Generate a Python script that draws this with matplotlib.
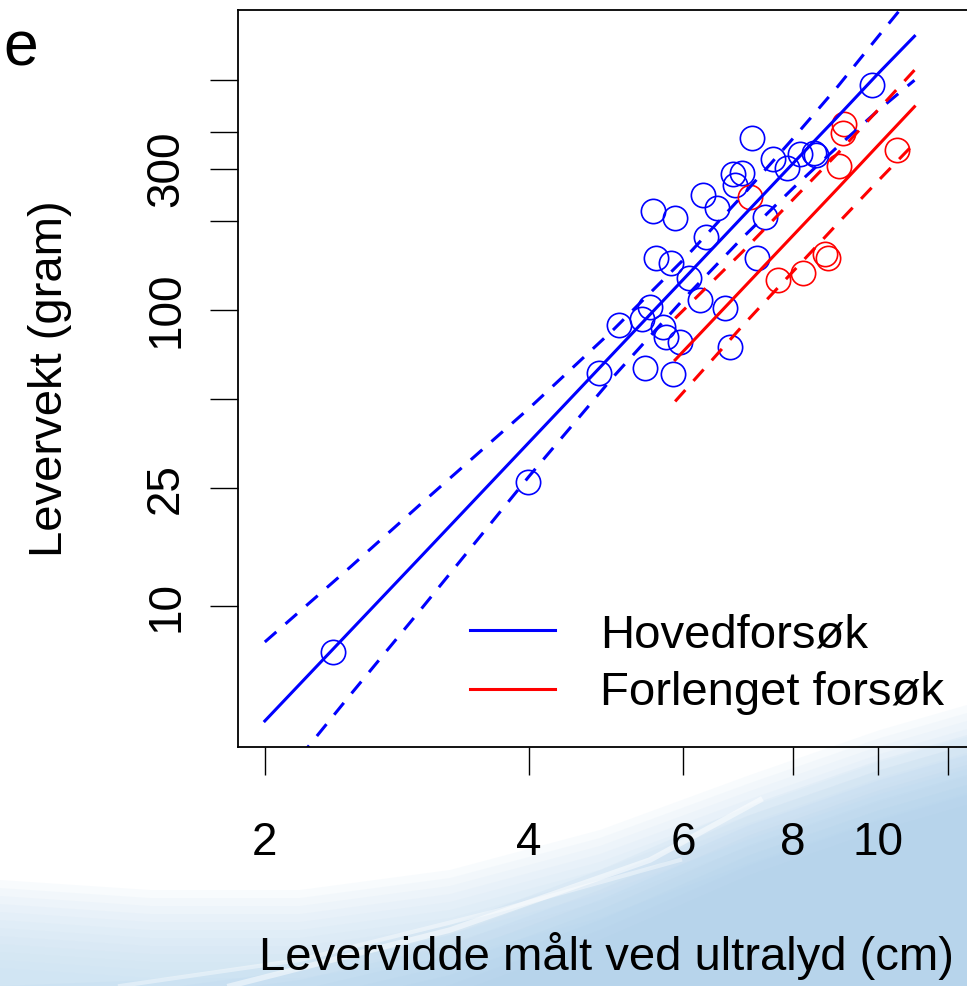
import matplotlib.pyplot as plt
import numpy as np

plt.rcParams['font.family'] = ['Liberation Sans', 'DejaVu Sans']

# Hovedforsøk (blue circles)
hoved_bredde = [7.18, 7.58, 7.88, 8.15, 8.44, 8.49, 6.84, 7.00, 6.86, 6.32,
                6.56, 5.54, 5.87, 7.43, 6.36, 5.58, 5.80, 7.28, 6.08, 6.26,
                6.69, 5.49, 5.38, 5.07, 5.69, 5.73, 5.94, 6.78, 4.81, 5.43,
                5.84, 9.84, 3.99, 2.39]
hoved_vekt = [380, 323, 302, 336, 338, 334, 288, 291, 265, 245,
              221, 216, 205, 206, 176, 149.5, 144, 149.5, 128.6, 108,
              101.3, 102.6, 93.2, 89.0, 87.8, 81.3, 77.8, 75.2, 61.4, 63.8,
              60.8, 576, 26.2, 6.98]

# Forlenget forsøk (red circles)
forl_bredde = [9.14, 9.13, 9.03, 10.50, 7.15, 8.70, 8.77, 8.20, 7.68]
forl_vekt = [425, 395, 306, 347, 240, 154.6, 149.5, 133, 126.3]

# fitted lines with confidence bands
hoved_linje_x = [2, 2.5, 3, 4, 5, 6, 7, 8, 9, 10, 11]
hoved_fit = [4.09, 8.21, 14.5, 35.7, 71.8, 127, 206, 313, 451, 629, 841]
hoved_ovre = [7.56, 13.5, 21.9, 46.5, 86.2, 148, 243, 380, 570, 839, 1184]
hoved_nedre = [2.21, 4.99, 9.60, 27.4, 59.8, 108.7, 175, 258, 357, 472, 597]

forl_linje_x = [5.87, 7, 8, 9, 10, 11]
forl_fit = [67.8, 117.6, 178.6, 258, 360, 486]
forl_ovre = [93.7, 156.9, 236.3, 338.8, 474.5, 646]
forl_nedre = [49.1, 88.2, 135, 196.5, 273, 365.7]

x_ticks = [2, 4, 6, 8, 10, 12]
x_ticklabels = ['2', '4', '6', '8', '10', '']
y_ticks = [10, 25, 50, 100, 200, 300, 400, 600]
y_ticklabels = ['10', '25', '', '100', '', '300', '', '']

W, H = 967, 986
fig = plt.figure(figsize=(W / 100, H / 100), dpi=100)

# slide background swoosh (decoration), soft layered fills
bg = fig.add_axes([0, 0, 1, 1], zorder=0)
bg.set_xlim(0, W)
bg.set_ylim(H, 0)
bg.axis('off')
bx = np.array([0, 150, 300, 450, 600, 750, 880, 967])
kant = np.array([880, 890, 890, 870, 830, 775, 730, 705])
for k in range(12):
    bg.fill_between(bx, kant + 8 * k, H, color='#c9e1f3', alpha=0.12, lw=0)
kant2 = np.array([986, 980, 960, 925, 870, 805, 760, 735])
for k in range(8):
    bg.fill_between(bx, kant2 + 10 * k, H, color='#a9cdeb', alpha=0.1, lw=0)
bg.plot([230, 450, 650, 760], [986, 930, 860, 800], color='white', lw=4, alpha=0.5)
bg.plot([120, 300, 500, 680], [986, 960, 910, 860], color='white', lw=3, alpha=0.4)

ax = fig.add_axes([238 / W, (H - 747) / H, 736 / W, 737 / H], zorder=1)
ax.set_facecolor('none')
ax.set_xscale('log')
ax.set_yscale('log')
ax.set_xlim(1.864, 12.86)
ax.set_ylim(3.34, 1031)

kw_pt = dict(ls='none', marker='o', ms=17.5, mfc='none', mew=1.2)
ax.plot(hoved_bredde, hoved_vekt, color='#0000ff', **kw_pt)
ax.plot(forl_bredde, forl_vekt, color='#ff0000', **kw_pt)

l1, = ax.plot(hoved_linje_x, hoved_fit, color='#0000ff', lw=2.2)
ax.plot(hoved_linje_x, hoved_ovre, color='#0000ff', lw=2.2, dashes=(5, 4))
ax.plot(hoved_linje_x, hoved_nedre, color='#0000ff', lw=2.2, dashes=(5, 4))
l2, = ax.plot(forl_linje_x, forl_fit, color='#ff0000', lw=2.2)
ax.plot(forl_linje_x, forl_ovre, color='#ff0000', lw=2.2, dashes=(5, 4))
ax.plot(forl_linje_x, forl_nedre, color='#ff0000', lw=2.2, dashes=(5, 4))

ax.minorticks_off()
ax.set_xticks(x_ticks)
ax.set_xticklabels(x_ticklabels)
ax.set_yticks(y_ticks)
ax.set_yticklabels(y_ticklabels)
ax.tick_params(axis='both', length=20, width=1, labelsize=33, direction='out')
ax.tick_params(axis='x', pad=33)
ax.tick_params(axis='y', pad=16)
plt.setp(ax.get_yticklabels(), rotation=90, va='center')
for s in ax.spines.values():
    s.set_linewidth(1.3)

ax.set_xlabel('Levervidde målt ved ultralyd (cm)', fontsize=34)
ax.set_ylabel('Levervekt (gram)', fontsize=34)
ax.xaxis.set_label_coords((606 - 238) / 736, -0.251)
ax.yaxis.set_label_coords(-0.2255, 0.5)

fig.legend([l1, l2], ['Hovedforsøk', 'Forlenget forsøk'], loc='upper left',
           bbox_to_anchor=(470 / W, (H - 613) / H), frameon=False, fontsize=34,
           handlelength=1.8, handletextpad=0.95, labelspacing=0.3,
           borderpad=0, borderaxespad=0)

fig.text(3 / W, (H - 66) / H, 'e', fontsize=45, ha='left', va='baseline')

fig.savefig('out.png', dpi=100)
